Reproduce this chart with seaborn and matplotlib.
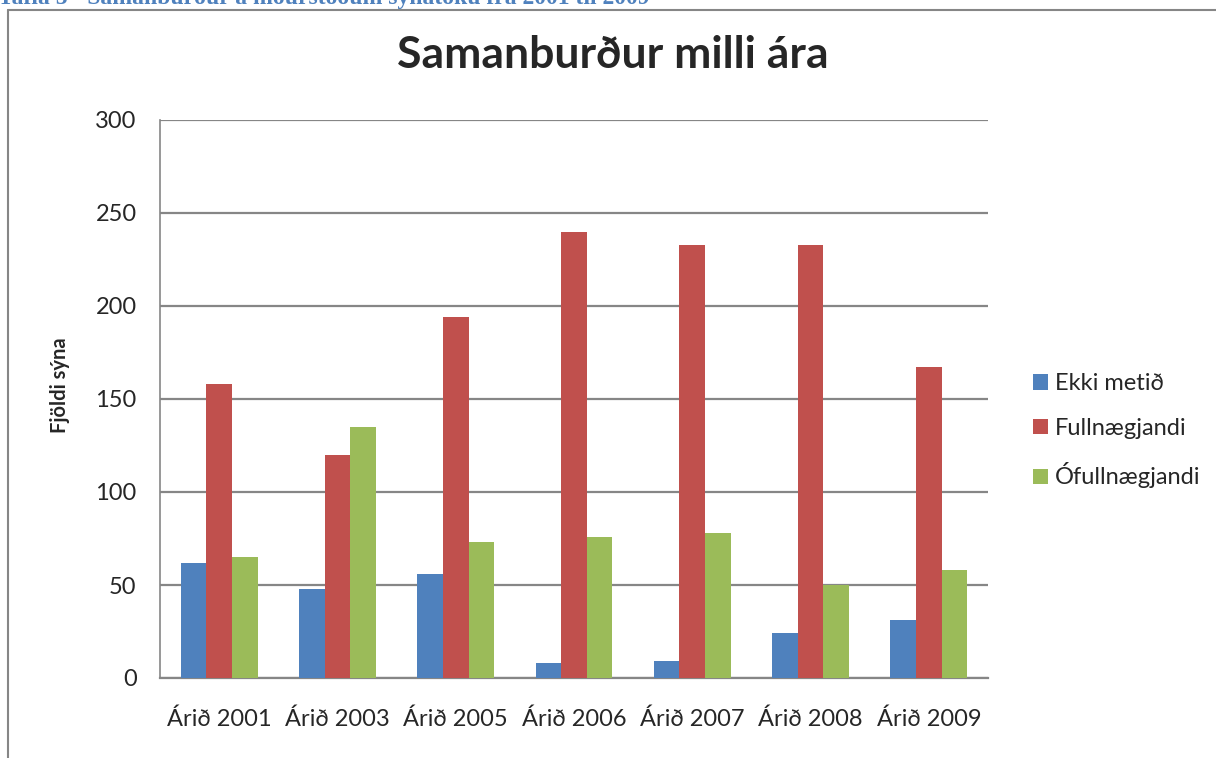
import pandas as pd
import matplotlib
matplotlib.use("Agg")
import matplotlib.pyplot as plt
from matplotlib.patches import Patch
from matplotlib.lines import Line2D
import seaborn as sns

# Values
years = ["Árið 2001", "Árið 2003", "Árið 2005", "Árið 2006", "Árið 2007", "Árið 2008", "Árið 2009"]
ekki_metid = [62, 48, 56, 8, 9, 24, 31]
fullnaegjandi = [158, 120, 194, 240, 233, 233, 167]
ofullnaegjandi = [65, 135, 73, 76, 78, 50, 58]
series_names = ["Ekki metið", "Fullnægjandi", "Ófullnægjandi"]
colors = ["#4F81BD", "#C0504D", "#9BBB59"]

df = pd.DataFrame({
    "Ár": years,
    series_names[0]: ekki_metid,
    series_names[1]: fullnaegjandi,
    series_names[2]: ofullnaegjandi,
})
long_df = df.melt(id_vars="Ár", var_name="Flokkur", value_name="Fjöldi")

sns.set_style("white")
plt.rcParams['font.family'] = ['Lato', 'DejaVu Sans']

W, H = 1216, 758
fig = plt.figure(figsize=(W / 100, H / 100), dpi=100)
ax = fig.add_axes([160 / W, 1 - 678 / H, (988 - 160) / W, (678 - 120) / H])

sns.barplot(data=long_df, x="Ár", y="Fjöldi", hue="Flokkur", palette=colors,
            width=0.65, gap=0, saturation=1, errorbar=None, ax=ax, legend=False,
            edgecolor="none", zorder=3)

grid_col = "#868686"
ax.set_ylim(0, 300)
ax.set_yticks(range(0, 301, 50))
ax.yaxis.grid(True, color=grid_col, linewidth=1.6, zorder=0)
ax.set_axisbelow(True)
for s in ["top", "right"]:
    ax.spines[s].set_visible(False)
ax.spines["left"].set_color(grid_col)
ax.spines["left"].set_linewidth(1.2)
ax.spines["bottom"].set_color(grid_col)
ax.spines["bottom"].set_linewidth(1.6)
ax.tick_params(axis="y", length=5.8, color=grid_col, width=1.6, labelsize=17, pad=11)
ax.tick_params(axis="x", length=0, labelsize=17, pad=22)
ax.set_xlabel("")
ax.set_ylabel("")
ax.set_xlim(-0.5, len(years) - 0.5)

fig.text(60 / W, 1 - 385 / H, "Fjöldi sýna", rotation=90, ha="center", va="center",
         fontsize=14.5, fontweight="bold")

fig.text(613 / W, 1 - 55 / H, "Samanburður milli ára", ha="center", va="center",
         fontsize=32, fontweight="bold")

handles = [Patch(facecolor=c, edgecolor="none") for c in colors]
fig.legend(handles, series_names, loc="upper left", bbox_to_anchor=(1012 / W, 1 - 352 / H),
           frameon=False, fontsize=17, handlelength=0.62, handleheight=0.62,
           handletextpad=0.3, labelspacing=1.0)

# outer chart frame and clipped caption above it
fig.add_artist(Line2D([8 / W, 8 / W], [0, 1 - 10 / H], color=grid_col, linewidth=1.5))
fig.add_artist(Line2D([8 / W, 1], [1 - 10 / H, 1 - 10 / H], color=grid_col, linewidth=1.5))
fig.text(-2 / W, 1 - 4 / H, "Tafla 5 - Samanburður á niðurstöðum sýnatöku frá 2001 til 2009",
         ha="left", va="baseline", fontsize=17, fontweight="bold", color="#4F81BD",
         family=["Liberation Serif", "DejaVu Serif"])

fig.savefig("out.png", dpi=100)
